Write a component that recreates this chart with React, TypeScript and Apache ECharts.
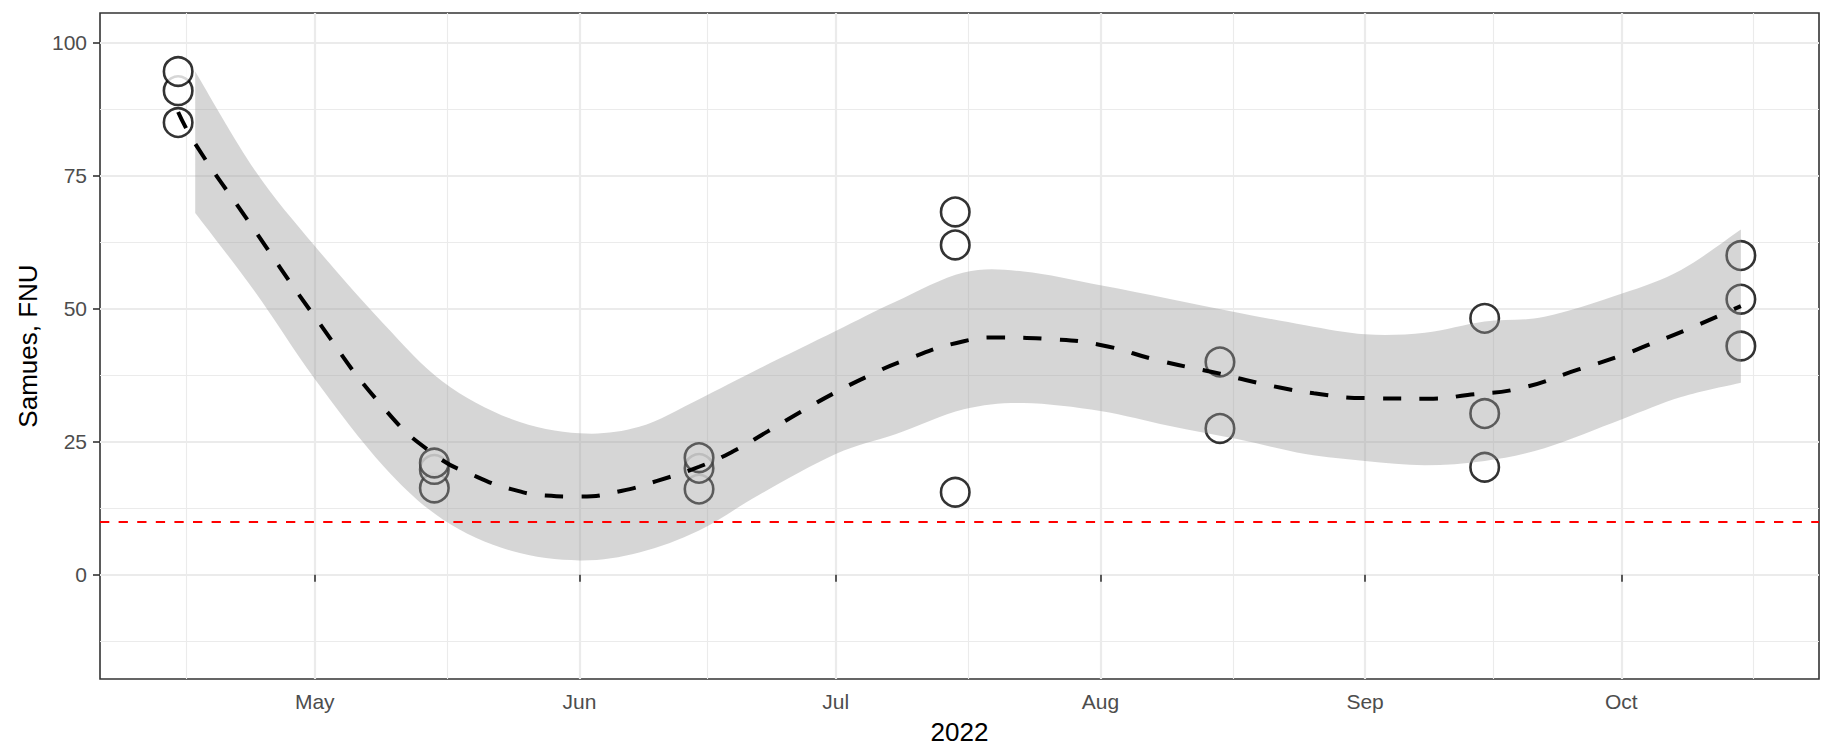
import React, { useEffect, useRef } from 'react';
import * as echarts from 'echarts';

// ---------- data ----------
const pointDates = [
  '2022-04-15', '2022-04-15', '2022-04-15',
  '2022-05-15', '2022-05-15', '2022-05-15',
  '2022-06-15', '2022-06-15', '2022-06-15',
  '2022-07-15', '2022-07-15', '2022-07-15',
  '2022-08-15', '2022-08-15',
  '2022-09-15', '2022-09-15', '2022-09-15',
  '2022-10-15', '2022-10-15', '2022-10-15',
];
const pointValues = [
  85, 91, 94.6,
  16.3, 19.8, 21,
  16.1, 20, 22,
  15.5, 62, 68.2,
  27.5, 40,
  20.2, 30.3, 48.2,
  43, 51.8, 60,
];

const fitDates = [
  '2022-04-15', '2022-04-17', '2022-04-23', '2022-05-01', '2022-05-09', '2022-05-15',
  '2022-05-20', '2022-05-24', '2022-05-28', '2022-06-01', '2022-06-06', '2022-06-10',
  '2022-06-15', '2022-06-19', '2022-06-23', '2022-06-27', '2022-07-01', '2022-07-05',
  '2022-07-09', '2022-07-16', '2022-07-20', '2022-07-26', '2022-08-01', '2022-08-08',
  '2022-08-15', '2022-08-18', '2022-08-22', '2022-08-26', '2022-09-01', '2022-09-09',
  '2022-09-13', '2022-09-19', '2022-09-26', '2022-10-01', '2022-10-04', '2022-10-09',
  '2022-10-15',
];
const fitValues = [
  87, 81, 67, 48.5, 31.5, 22.6,
  18.4, 16.1, 14.9, 14.7, 15.8, 17.6,
  20.3, 23.2, 26.9, 30.7, 34.3, 37.5,
  40.3, 43.9, 44.6, 44.3, 43.2, 40.2,
  37.8, 36.6, 35.2, 34.1, 33.2, 33.1,
  33.8, 35, 38.6, 41.2, 43.1, 46.3,
  50.5,
];

const bandDates = [
  '2022-04-17', '2022-04-24', '2022-05-01', '2022-05-09', '2022-05-16', '2022-05-24',
  '2022-06-01', '2022-06-08', '2022-06-15', '2022-06-22', '2022-07-01', '2022-07-08',
  '2022-07-16', '2022-07-23', '2022-08-01', '2022-08-09', '2022-08-17', '2022-08-25',
  '2022-09-01', '2022-09-08', '2022-09-15', '2022-09-22', '2022-10-01', '2022-10-08',
  '2022-10-15',
];
const bandUpper = [
  94.6, 76, 61.8, 47.3, 36.3, 29.3,
  26.6, 27.8, 33, 38.7, 45.8, 51.3,
  56.8, 57, 54.4, 51.9, 49.3, 46.9,
  45.2, 45.5, 47.6, 48.5, 52.8, 57.3,
  64.9,
];
const bandLower = [
  68, 53.2, 36.8, 20.5, 10.4, 4.5,
  2.7, 4.2, 8.3, 15, 22.7, 26.4,
  31.1, 32.3, 30.8, 28, 25.5, 22.7,
  21.4, 20.6, 21.4, 23.8, 29.2, 33.4,
  36.1,
];

const thresholdValue = 10;

const xTickDates = ['2022-05-01', '2022-06-01', '2022-07-01', '2022-08-01', '2022-09-01', '2022-10-01'];
const xTickLabels = ['May', 'Jun', 'Jul', 'Aug', 'Sep', 'Oct'];
const monthStarts = ['2022-04-01', '2022-05-01', '2022-06-01', '2022-07-01', '2022-08-01', '2022-09-01', '2022-10-01', '2022-11-01'];
const yTicks = [0, 25, 50, 75, 100];
const yMinorTicks = [-12.5, 12.5, 37.5, 62.5, 87.5];
const yMin = -19.6;
const yMax = 105.6;

const xTitle = '2022';
const yTitle = 'Samues, FNU';

// ---------- helpers ----------
const ts = (s: string) => {
  const [y, m, d] = s.split('-').map(Number);
  return new Date(y, m - 1, d).getTime();
};

// Catmull-Rom style cubic segments through screen points (rendering only)
const curveSegments = (pts: number[][]) => {
  let d = '';
  for (let i = 0; i < pts.length - 1; i++) {
    const p0 = pts[Math.max(i - 1, 0)];
    const p1 = pts[i];
    const p2 = pts[i + 1];
    const p3 = pts[Math.min(i + 2, pts.length - 1)];
    const c1x = p1[0] + (p2[0] - p0[0]) / 6;
    const c1y = p1[1] + (p2[1] - p0[1]) / 6;
    const c2x = p2[0] - (p3[0] - p1[0]) / 6;
    const c2y = p2[1] - (p3[1] - p1[1]) / 6;
    d += ` C ${c1x} ${c1y} ${c2x} ${c2y} ${p2[0]} ${p2[1]}`;
  }
  return d;
};

const FONT = "'Liberation Sans', Arial, sans-serif";
const GRID_COLOR = '#ebebeb';

export default function App() {
  const ref = useRef<HTMLDivElement>(null);

  useEffect(() => {
    document.body.style.margin = '0';
    const chart = echarts.init(ref.current!, null, { renderer: 'svg' });

    const firstT = ts(pointDates[0]);
    const lastT = ts(pointDates[pointDates.length - 1]);
    const xMin = firstT - 0.05 * (lastT - firstT);
    const xMax = lastT + 0.05 * (lastT - firstT);

    const xTickValues = xTickDates.map(ts);
    const xMinorValues: number[] = [];
    for (let i = 0; i < monthStarts.length - 1; i++) {
      xMinorValues.push((ts(monthStarts[i]) + ts(monthStarts[i + 1])) / 2);
    }

    const pointData = pointDates.map((d, i) => [ts(d), pointValues[i]]);
    const fitData = fitDates.map((d, i) => [ts(d), fitValues[i]]);
    const bandData = bandDates.map((d, i) => [ts(d), bandLower[i], bandUpper[i]]);

    const labelFor = (v: number) => {
      for (let i = 0; i < xTickValues.length; i++) {
        if (Math.abs(xTickValues[i] - v) < 3600 * 1000 * 12) return xTickLabels[i];
      }
      return '';
    };

    const majorLine = { color: GRID_COLOR, width: 2.2, type: 'solid' };
    const minorLine = { color: GRID_COLOR, width: 1.1, type: 'solid' };

    const renderBand = (params: any, api: any) => {
      if (params.dataIndex !== 0) return null;
      const up = bandData.map((r) => api.coord([r[0], r[2]]));
      const lo = bandData.map((r) => api.coord([r[0], r[1]])).reverse();
      const pathData =
        `M ${up[0][0]} ${up[0][1]}` + curveSegments(up) +
        ` L ${lo[0][0]} ${lo[0][1]}` + curveSegments(lo) + ' Z';
      return {
        type: 'path',
        shape: { pathData },
        style: { fill: '#999999', opacity: 0.4, stroke: null },
        silent: true,
      };
    };

    const option: any = {
      animation: false,
      textStyle: { fontFamily: FONT },
      grid: {
        left: 100, right: 18, top: 13, bottom: 70,
        show: true, borderColor: '#333333', borderWidth: 1.6, backgroundColor: 'transparent',
      },
      xAxis: {
        type: 'value',
        min: xMin,
        max: xMax,
        scale: true,
        axisLine: { show: false },
        splitLine: { show: false },
        axisTick: {
          show: true, length: 7, customValues: xTickValues,
          lineStyle: { color: '#333333', width: 1.6 },
        },
        axisLabel: {
          customValues: xTickValues,
          formatter: (v: number) => labelFor(v),
          color: '#4d4d4d', fontSize: 21, margin: 12, fontFamily: FONT,
        },
      },
      yAxis: {
        type: 'value',
        min: yMin,
        max: yMax,
        axisLine: { show: false },
        splitLine: { show: false },
        axisTick: {
          show: true, length: 7, customValues: yTicks,
          lineStyle: { color: '#333333', width: 1.6 },
        },
        axisLabel: {
          customValues: yTicks,
          color: '#4d4d4d', fontSize: 21, margin: 13, fontFamily: FONT,
        },
      },
      graphic: [
        {
          type: 'text', x: 959.5, y: 732, z: 10,
          style: { text: xTitle, fontSize: 26, fontFamily: FONT, fill: '#000000', align: 'center', verticalAlign: 'middle' },
        },
        {
          type: 'text', x: 28, y: 346, rotation: Math.PI / 2, z: 10,
          style: { text: yTitle, fontSize: 26, fontFamily: FONT, fill: '#000000', align: 'center', verticalAlign: 'middle' },
        },
      ],
      series: [
        {
          name: 'gridMinor', type: 'line', data: [], silent: true, z: 0,
          markLine: {
            silent: true, z: 0, symbol: ['none', 'none'], label: { show: false },
            lineStyle: minorLine, emphasis: { disabled: true },
            data: [
              ...yMinorTicks.map((v) => ({ yAxis: v })),
              ...xMinorValues.map((v) => ({ xAxis: v })),
            ],
          },
        },
        {
          name: 'gridMajor', type: 'line', data: [], silent: true, z: 0,
          markLine: {
            silent: true, z: 0, symbol: ['none', 'none'], label: { show: false },
            lineStyle: majorLine, emphasis: { disabled: true },
            data: [
              ...yTicks.map((v) => ({ yAxis: v })),
              ...xTickValues.map((v) => ({ xAxis: v })),
            ],
          },
        },
        {
          name: 'points', type: 'scatter', data: pointData, z: 2, silent: true,
          symbol: 'circle', symbolSize: 28.5,
          itemStyle: { color: '#ffffff', borderColor: '#000000', borderWidth: 2.6 },
          emphasis: { disabled: true },
        },
        {
          name: 'band', type: 'custom', data: bandData, z: 3, silent: true,
          encode: { x: 0, y: [1, 2] },
          renderItem: renderBand,
        },
        {
          name: 'fit', type: 'line', data: fitData, z: 4, silent: true,
          smooth: true, symbol: 'none', showSymbol: false,
          lineStyle: { color: '#000000', width: 4, type: [18.3, 18.3] },
        },
        {
          name: 'threshold', type: 'line', data: [], silent: true, z: 5,
          markLine: {
            silent: true, z: 6, symbol: ['none', 'none'], label: { show: false },
            lineStyle: { color: '#ff0000', width: 2.2, type: [9.3, 9.3] },
            emphasis: { disabled: true },
            data: [{ yAxis: thresholdValue }],
          },
        },
      ],
    };

    chart.setOption(option);
    return () => chart.dispose();
  }, []);

  return <div ref={ref} style={{ width: 1837, height: 749, overflow: 'hidden' }} />;
}
